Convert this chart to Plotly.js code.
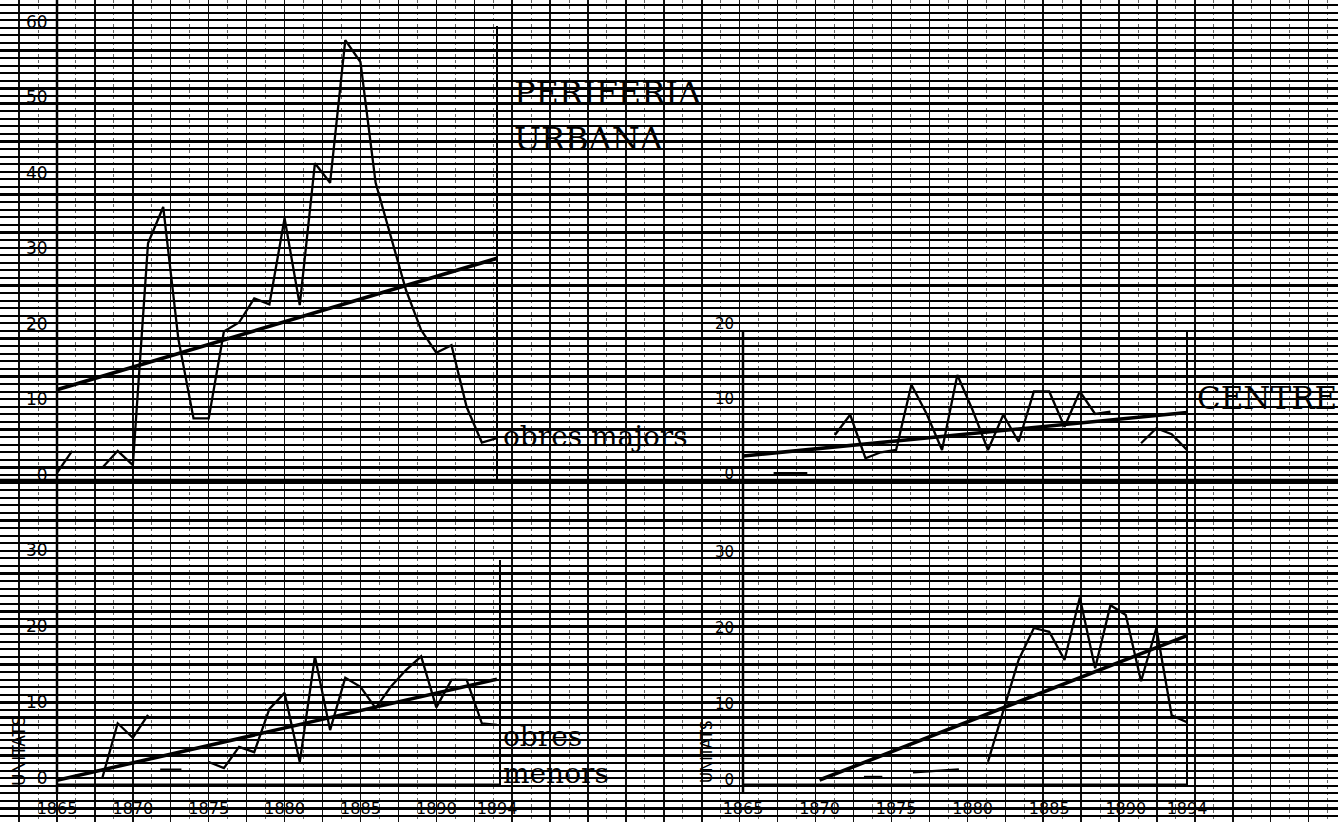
<!DOCTYPE html>
<html>
<head>
<meta charset="utf-8">
<script src="https://cdn.plot.ly/plotly-3.0.1.min.js"></script>
<style>html,body{margin:0;padding:0;background:#fff;}#chart{width:1338px;height:822px;}</style>
</head>
<body>
<div id="chart"></div>
<script>
// ---------------- DATA ----------------
const years = [1865,1866,1867,1868,1869,1870,1871,1872,1873,1874,1875,1876,1877,1878,1879,
               1880,1881,1882,1883,1884,1885,1886,1887,1888,1889,1890,1891,1892,1893,1894];
const xTickVals = [1865,1870,1875,1880,1885,1890,1894];

// Perifèria urbana – obres majors
const perifMajors = [0.3,3.2,null,1.0,3.2,1.3,30.7,35.5,18,7.5,7.5,19,20.2,23.4,22.6,
                     34,22.5,41.3,38.7,57.6,54.7,38.7,31.6,24.5,19.2,16.2,17.2,9,4.3,4.9];
const perifMajorsTrendX = [1865,1894];
const perifMajorsTrendY = [11.3,28.7];

// Perifèria urbana – obres menors
const perifMenors = [null,null,null,0.1,7.2,5.3,8.3,null,null,null,2.1,1.3,4.1,3.4,9.1,
                     11.2,2.1,16,6.3,13.2,12,9.2,12,14.2,16,9.3,12.9,12.9,7.2,7];
const perifMenorsTrendX = [1865,1894];
const perifMenorsTrendY = [-0.3,13];
const perifMenorsDashX = [1871.8,1873.2];
const perifMenorsDashY = [1.1,1.1];

// Centre – obres majors
const centreMajors = [null,null,null,null,null,null,5.2,7.9,2.1,2.9,3.2,11.9,8,3.2,13.2,
                      8.5,3.2,7.9,4.3,11,11,6.3,11,8,8.3,null,4.1,6.1,5.3,3.2];
const centreMajorsTrendX = [1865,1894];
const centreMajorsTrendY = [2.4,8.2];
const centreMajorsDashX = [1867,1869.2];
const centreMajorsDashY = [0.1,0.1];

// Centre – obres menors
const centreMenors = [null,null,null,null,null,null,null,null,null,null,null,null,null,null,null,
                      null,2.4,9,15.8,20,19.5,15.8,24,14.7,23,21.7,13,20,8.5,7.6];
const centreMenorsTrendX = [1870,1894];
const centreMenorsTrendY = [0,19];
const centreMenorsDashX = [1872.9,1874.1,null,1876.1,1879.1];
const centreMenorsDashY = [0.4,0.4,null,1.0,1.4];

// ---------------- LAYOUT HELPERS ----------------
const W = 1338, H = 822;
const fx = p => p / W;
const fy = p => 1 - p / H;

const lineStyle = {color:'#000', width:2.3};
const trendStyle = {color:'#000', width:3.6};

function tr(x, y, ax, ay, line){
  return {type:'scatter', mode:'lines', x:x, y:y, xaxis:ax, yaxis:ay,
          line:line, connectgaps:false, hoverinfo:'skip', cliponaxis:false};
}

const data = [
  {type:'scatter', mode:'lines', x:[], y:[], xaxis:'x', yaxis:'y', hoverinfo:'skip'},
  tr(years, perifMajors, 'x2','y2', lineStyle),
  tr(perifMajorsTrendX, perifMajorsTrendY, 'x2','y2', trendStyle),
  tr(years, perifMenors, 'x3','y3', lineStyle),
  tr(perifMenorsTrendX, perifMenorsTrendY, 'x3','y3', trendStyle),
  tr(perifMenorsDashX, perifMenorsDashY, 'x3','y3', lineStyle),
  tr(years, centreMajors, 'x4','y4', lineStyle),
  tr(centreMajorsTrendX, centreMajorsTrendY, 'x4','y4', trendStyle),
  tr(centreMajorsDashX, centreMajorsDashY, 'x4','y4', lineStyle),
  tr(years, centreMenors, 'x5','y5', lineStyle),
  tr(centreMenorsTrendX, centreMenorsTrendY, 'x5','y5', trendStyle),
  tr(centreMenorsDashX, centreMenorsDashY, 'x5','y5', lineStyle)
];

const tickFontL = {family:'DejaVu Sans', size:17, color:'#000'};
const tickFontR = {family:'DejaVu Sans', size:15, color:'#000'};
const xTickFont = {family:'DejaVu Sans', size:16, color:'#000'};

function xax(d0, d1, anchor, show){
  return {domain:[fx(d0), fx(d1)], range:[1865,1894], anchor:anchor,
          showgrid:false, zeroline:false, showline:false,
          tickmode:'array', tickvals:xTickVals, ticktext:xTickVals.map(String),
          showticklabels:show, ticks:'',
          tickfont:xTickFont, fixedrange:true};
}
function yax(pBot, pTop, zeroPx, pxPerUnit, anchor, tickvals, font){
  return {domain:[fy(pBot), fy(pTop)],
          range:[(zeroPx - pBot)/pxPerUnit, (zeroPx - pTop)/pxPerUnit],
          anchor:anchor, showgrid:false, zeroline:false, showline:false,
          tickmode:'array', tickvals:tickvals, ticktext:tickvals.map(String),
          ticks:'outside', ticklen:5, tickcolor:'rgba(0,0,0,0)', tickfont:font, fixedrange:true};
}

const layout = {
  width:W, height:H, margin:{l:0,r:0,t:0,b:0,pad:0},
  paper_bgcolor:'#fff', plot_bgcolor:'rgba(0,0,0,0)', showlegend:false,
  // background graph paper
  xaxis:{domain:[0,1], range:[0,W], anchor:'y', showticklabels:false, ticks:'', zeroline:false,
         showgrid:true, gridcolor:'#111', gridwidth:1.4, tick0:57, dtick:37.93,
         minor:{showgrid:true, tick0:57, dtick:18.965, gridcolor:'#666', gridwidth:1, griddash:'dot'},
         fixedrange:true},
  yaxis:{domain:[0,1], range:[H,0], anchor:'x', showticklabels:false, ticks:'', zeroline:false,
         showgrid:true, gridcolor:'#000', gridwidth:2.2, tick0:475, dtick:7.58, fixedrange:true},
  xaxis2: xax(57, 497, 'y2', false),
  yaxis2: yax(481, 0, 475, 7.55, 'x2', [0,10,20,30,40,50,60], tickFontL),
  xaxis3: xax(57, 497, 'y3', true),
  yaxis3: yax(797, 520, 778, 7.6, 'x3', [0,10,20,30], tickFontL),
  xaxis4: xax(743, 1187, 'y4', false),
  yaxis4: yax(481, 300, 474, 7.5, 'x4', [0,10,20], tickFontR),
  xaxis5: xax(743, 1187, 'y5', true),
  yaxis5: yax(797, 520, 780, 7.6, 'x5', [0,10,20,30], tickFontR),
  shapes:[
    {type:'line', xref:'paper', yref:'paper', x0:fx(57), x1:fx(57), y0:fy(0), y1:fy(792), line:{color:'#000', width:2.5}},
    {type:'line', xref:'paper', yref:'paper', x0:fx(497), x1:fx(497), y0:fy(26), y1:fy(481), line:{color:'#000', width:2}},
    {type:'line', xref:'paper', yref:'paper', x0:fx(500), x1:fx(500), y0:fy(560), y1:fy(785), line:{color:'#000', width:2}},
    {type:'line', xref:'paper', yref:'paper', x0:fx(57), x1:fx(500), y0:fy(785), y1:fy(785), line:{color:'#000', width:3}},
    {type:'line', xref:'paper', yref:'paper', x0:fx(743), x1:fx(743), y0:fy(330), y1:fy(792), line:{color:'#000', width:2.5}},
    {type:'line', xref:'paper', yref:'paper', x0:fx(1187), x1:fx(1187), y0:fy(330), y1:fy(785), line:{color:'#000', width:2}},
    {type:'line', xref:'paper', yref:'paper', x0:fx(743), x1:fx(1187), y0:fy(785), y1:fy(785), line:{color:'#000', width:3}},
    {type:'line', xref:'paper', yref:'paper', x0:0, x1:1, y0:fy(480), y1:fy(480), line:{color:'#000', width:2.5}}
  ],
  annotations:[
    {text:'PERIFERIA', xref:'paper', yref:'paper', x:fx(512), y:fy(93), xanchor:'left', yanchor:'middle', showarrow:false,
     font:{family:'DejaVu Serif', size:32, color:'#000'}},
    {text:'URBANA', xref:'paper', yref:'paper', x:fx(512), y:fy(139), xanchor:'left', yanchor:'middle', showarrow:false,
     font:{family:'DejaVu Serif', size:32, color:'#000'}},
    {text:'obres majors', xref:'paper', yref:'paper', x:fx(501), y:fy(436), xanchor:'left', yanchor:'middle', showarrow:false,
     font:{family:'DejaVu Serif', size:28, color:'#000'}},
    {text:'obres', xref:'paper', yref:'paper', x:fx(501), y:fy(736), xanchor:'left', yanchor:'middle', showarrow:false,
     font:{family:'DejaVu Serif', size:28, color:'#000'}},
    {text:'menors', xref:'paper', yref:'paper', x:fx(501), y:fy(773), xanchor:'left', yanchor:'middle', showarrow:false,
     font:{family:'DejaVu Serif', size:28, color:'#000'}},
    {text:'CENTRE', xref:'paper', yref:'paper', x:fx(1195), y:fy(398), xanchor:'left', yanchor:'middle', showarrow:false,
     font:{family:'DejaVu Serif', size:31, color:'#000'}},
    {text:'UNITATS', xref:'paper', yref:'paper', x:fx(19), y:fy(751), xanchor:'center', yanchor:'middle', showarrow:false,
     textangle:-90, font:{family:'DejaVu Sans', size:17, color:'#000'}},
    {text:'UNITATS', xref:'paper', yref:'paper', x:fx(707), y:fy(752), xanchor:'center', yanchor:'middle', showarrow:false,
     textangle:-90, font:{family:'DejaVu Sans', size:15, color:'#000'}}
  ]
};

Plotly.newPlot('chart', data, layout, {staticPlot:true, displayModeBar:false});
</script>
</body>
</html>
